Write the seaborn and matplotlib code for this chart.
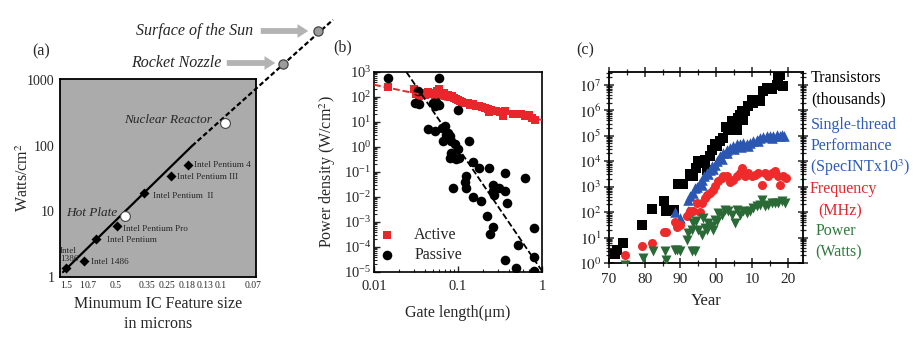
import numpy as np
import pandas as pd
import matplotlib
matplotlib.use('Agg')
import matplotlib.pyplot as plt
from matplotlib.ticker import LogLocator, NullFormatter, NullLocator, FixedLocator, MultipleLocator
import seaborn as sns

# ---------------- Panel (a) data ----------------
node_labels = ['1.5', '1', '0.7', '0.5', '0.35', '0.25', '0.18', '0.13', '0.1', '0.07']
node_pos = [0.6, 2.2, 3.1, 5.6, 8.7, 10.7, 12.7, 14.5, 16.1, 19.3]
chip_names = ['Intel\n1386', 'Intel 1486', 'Intel Pentium', 'Intel Pentium Pro',
              'Intel Pentium  II', 'Intel Pentium III', 'Intel Pentium 4']
chip_pos = [0.6, 2.4, 3.6, 5.7, 8.4, 11.1, 12.8]
chip_watts = [1.37, 1.75, 3.8, 6.0, 19, 34, 51]
ref_names = ['Hot Plate', 'Nuclear Reactor', 'Rocket Nozzle', 'Surface of the Sun']
ref_pos = [6.5, 16.5, 22.3, 25.8]
ref_watts = [8.6, 221, 1750, 5550]
trend_solid_pos = [0.3, 13.2]
trend_solid_watts = [1.19, 98.6]
trend_dash_pos = [13.2, 27.3]
trend_dash_watts = [98.6, 8200]

# ---------------- Panel (b) data ----------------
active_len = [0.0148, 0.030, 0.032, 0.034, 0.036, 0.040, 0.044, 0.047, 0.050, 0.053, 0.056,
              0.059, 0.062, 0.065, 0.068, 0.072, 0.075, 0.080, 0.085, 0.090, 0.095, 0.100,
              0.105, 0.112, 0.120, 0.130, 0.140, 0.150, 0.165, 0.180, 0.195, 0.210, 0.225,
              0.235, 0.250, 0.280, 0.320, 0.340, 0.360, 0.450, 0.570, 0.620, 0.700, 0.760, 0.820]
active_pd = [240, 210, 130, 105, 150, 120, 160, 140, 135, 125, 175,
             200, 150, 120, 140, 110, 125, 100, 110, 90, 80, 75,
             70, 65, 60, 55, 50, 52, 45, 42, 40, 36, 33,
             24, 30, 27, 25, 17, 28, 21, 20, 17, 19, 14, 12]
passive_len = [0.0147, 0.060, 0.0334, 0.0305, 0.034, 0.050, 0.053, 0.060, 0.055, 0.100,
               0.044, 0.053, 0.065, 0.070, 0.072, 0.080, 0.066, 0.075, 0.083, 0.093, 0.099,
               0.083, 0.134, 0.080, 0.087, 0.094, 0.104, 0.150, 0.180, 0.234, 0.360, 0.630,
               0.125, 0.120, 0.087, 0.125, 0.150, 0.190, 0.260, 0.260, 0.265, 0.310, 0.360,
               0.380, 0.220, 0.260, 0.240, 0.800, 0.520, 0.360, 0.490, 0.800, 0.800]
passive_pd = [550, 575, 178, 60, 52, 55, 45, 48, 62, 29,
              5.4, 4.2, 6.0, 7.0, 3.0, 2.8, 1.7, 3.5, 1.7, 1.3, 0.8,
              0.6, 1.7, 0.35, 0.40, 0.33, 0.35, 0.26, 0.14, 0.15, 0.09, 0.06,
              0.07, 0.04, 0.022, 0.022, 0.010, 0.007, 0.030, 0.017, 0.012, 0.022, 0.017,
              0.006, 0.0017, 0.00065, 0.00032, 0.0006, 0.00012, 0.00003, 0.000014, 0.00004, 0.000011]
active_fit_len = [0.01, 1.0]
active_fit_pd = [310, 12]
passive_fit_len = [0.0243, 1.0]
passive_fit_pd = [1000, 1.1e-5]

# ---------------- Panel (c) data ----------------
tr_year = [1971.6, 1972.2, 1973.9, 1979.3, 1981.9, 1985.4, 1985.9, 1988.2, 1989.3, 1990.6,
           1992.6, 1993.6, 1994.3, 1995.0, 1995.9, 1996.8, 1997.3, 1998.2, 1998.7, 1999.6,
           2000.1, 2001.0, 2002.0, 2002.7, 2003.4, 2004.3, 2004.5, 2004.8, 2005.7, 2006.2,
           2006.6, 2007.1, 2007.6, 2008.0, 2009.0, 2009.9, 2010.4, 2011.3, 2012.2, 2013.2,
           2014.1, 2015.5, 2016.9, 2017.4, 2017.9, 2018.8]
tr_val = [2.3e0, 3.3e0, 6e0, 3e1, 1.35e2, 2.8e2, 1.07e2, 1.24e2, 1.26e3, 1.26e3,
          3.0e3, 2.5e3, 5.4e3, 1.0e4, 8.5e3, 1.15e4, 4.6e3, 1.55e4, 2.8e4, 4.5e4,
          3.8e4, 6.0e4, 8.0e4, 2.1e5, 2.0e5, 1.7e5, 3.6e5, 2.7e5, 1.7e5, 4.9e5,
          6.6e5, 9.1e5, 4.3e5, 9.1e5, 1.4e6, 2.6e6, 1.9e6, 2.6e6, 2.2e6, 5.5e6,
          7.4e6, 6.5e6, 1.0e7, 2.1e7, 2.5e7, 8.7e6]
pf_year = [1988.4, 1990.0, 1992.1, 1992.0, 1992.6, 1993.6, 1994.0, 1994.5, 1995.4, 1995.9,
           1996.5, 1997.3, 1998.2, 1998.7, 1999.6, 2000.1, 2001.0, 2002.0, 2002.9, 2003.8,
           2004.8, 2005.7, 2006.6, 2007.6, 2008.5, 2009.4, 2010.4, 2011.3, 2012.2, 2013.2,
           2014.1, 2015.0, 2016.0, 2016.9, 2017.9, 2019.0, 1996.0, 1997.8, 1999.0, 2001.5,
           2003.0, 2005.0, 2007.0, 2009.0, 2011.8, 2015.5, 2018.5]
pf_val = [9.8e1, 5.9e1, 1.06e2, 3.1e2, 4.2e2, 5.6e2, 8.9e2, 1.0e3, 1.4e3, 1.9e3,
          2.5e3, 3.4e3, 4.6e3, 6.3e3, 7.2e3, 1.0e4, 1.55e4, 2.1e4, 2.8e4, 3.3e4,
          3.8e4, 4.5e4, 4.5e4, 5.1e4, 4.5e4, 5.1e4, 6.0e4, 6.9e4, 7.9e4, 8.9e4,
          9.3e4, 1.0e5, 1.0e5, 1.1e5, 1.0e5, 1.0e5, 1.2e3, 3.0e3, 5.0e3, 1.2e4,
          2.0e4, 3.0e4, 3.5e4, 4.0e4, 6.0e4, 8.0e4, 1.1e5]
fq_year = [1974.4, 1979.3, 1981.9, 1985.4, 1985.9, 1988.4, 1989.1, 1990.0, 1991.9, 1992.6,
           1993.6, 1994.5, 1995.4, 1995.9, 1996.8, 1997.3, 1998.2, 1999.2, 1999.6, 2000.6,
           2001.5, 2002.0, 2002.9, 2003.8, 2004.8, 2005.7, 2006.6, 2007.1, 2008.0, 2009.0,
           2009.9, 2010.8, 2011.8, 2012.7, 2013.6, 2014.6, 2015.5, 2016.4, 2017.4, 2018.0,
           2018.8, 2019.5]
fq_val = [2.0, 4.8, 6.0, 17, 17, 40, 26, 32, 68, 106,
          106, 230, 98, 230, 355, 460, 560, 760, 1020, 1620,
          2190, 2500, 2500, 1580, 1860, 2500, 3390, 5370, 2500, 3390,
          2500, 2950, 3390, 1170, 3390, 2500, 3390, 3980, 2500, 1170,
          2500, 2190]
pw_year = [1974.4, 1979.5, 1982.3, 1985.6, 1985.9, 1988.4, 1988.9, 1989.8, 1991.7, 1992.0,
           1993.1, 1994.0, 1993.1, 1993.6, 1994.3, 1995.0, 1995.9, 1996.4, 1996.8, 1997.3,
           1997.8, 1998.7, 1999.2, 1999.6, 2000.1, 2000.6, 2001.5, 2002.4, 2003.4, 2004.3,
           2005.2, 2005.7, 2006.6, 2007.6, 2008.5, 2009.4, 2010.4, 2011.3, 2012.2, 2012.7,
           2013.6, 2014.6, 2015.5, 2016.4, 2017.4, 2018.3, 2019.3]
pw_val = [0.86, 1.6, 2.9, 2.9, 1.35, 3.3, 3.3, 2.9, 8.3, 15,
          2.9, 2.9, 20, 37, 44, 20, 13, 59, 23, 20,
          37, 28, 20, 50, 44, 91, 79, 123, 107, 79,
          37, 123, 79, 107, 91, 107, 145, 170, 195, 290,
          170, 195, 229, 229, 229, 263, 229]

# ---------------- style ----------------
sns.set_theme(style='ticks')
plt.rcParams['font.family'] = ['Liberation Serif', 'DejaVu Serif']
plt.rcParams['mathtext.fontset'] = 'stix'
plt.rcParams['axes.linewidth'] = 1.2
plt.rcParams['axes.edgecolor'] = 'black'

W, H = 918, 338
fig = plt.figure(figsize=(W / 100, H / 100), dpi=100)


def box(l, t, r, b):
    return [l / W, 1 - b / H, (r - l) / W, (b - t) / H]


def fx(px):
    return px / W


def fy(py):
    return 1 - py / H


# ================= Panel (a) =================
axa = fig.add_axes(box(60, 79, 256, 277))
axa.set_facecolor('#ababab')
axa.set_yscale('log')
axa.plot(trend_solid_pos, trend_solid_watts, color='black', lw=1.6, zorder=2)
axa.plot(trend_dash_pos, trend_dash_watts, color='black', lw=1.6, ls=(0, (2.2, 1.2)),
         clip_on=False, zorder=2)
sns.scatterplot(x=chip_pos, y=chip_watts, marker='D', color='black', s=26, linewidth=0,
                ax=axa, zorder=3)
sns.scatterplot(x=ref_pos[:2], y=ref_watts[:2], marker='o', color='white', edgecolor='#444444',
                linewidth=0.8, s=50, ax=axa, zorder=4, clip_on=False)
sns.scatterplot(x=ref_pos[2:], y=ref_watts[2:], marker='o', color='#9c9c9c', edgecolor='#444444',
                linewidth=0.9, s=44, ax=axa, zorder=4, clip_on=False)
axa.set_xlim(0, 19.6)
axa.set_ylim(1, 1030)
axa.set_xticks(node_pos)
axa.set_xticklabels(node_labels, fontsize=6.9)
axa.set_yticks([1, 10, 100, 1000])
axa.set_yticklabels(['1', '10', '100', '1000'], fontsize=10)
axa.yaxis.set_minor_locator(NullLocator())
axa.tick_params(length=0, pad=3)
axa.tick_params(axis='y', pad=4)
axa.set_ylabel('Watts/cm$^2$', fontsize=11.5)
axa.yaxis.set_label_coords(-0.142, 0.5)
axa.set_xlabel('Minumum IC Feature size\nin microns', fontsize=11.5, linespacing=1.35)
axa.xaxis.set_label_coords(0.5, -0.095)
for sp in axa.spines.values():
    sp.set_linewidth(1.3)

# chip labels (text)
chip_label_px = [(60, 255), (91, 262), (107, 240), (123, 229), (153, 196), (177, 177), (194, 165)]
for name, (px, py) in zip(chip_names, chip_label_px):
    fig.text(fx(px), fy(py), name, fontsize=6.6, ha='left', va='center', linespacing=0.85)
fig.text(fx(117), fy(213), 'Hot Plate', fontsize=9.5, style='italic', ha='right', va='center')
fig.text(fx(212), fy(120), 'Nuclear Reactor', fontsize=9.5, style='italic', ha='right', va='center')
fig.text(fx(221), fy(63), 'Rocket Nozzle', fontsize=11.5, style='italic', ha='right', va='center')
fig.text(fx(253), fy(31), 'Surface of the Sun', fontsize=11.5, style='italic', ha='right', va='center')
arrow_kw = dict(arrowstyle='simple,head_length=0.7,head_width=0.9,tail_width=0.38',
                color='#b3b3b3', lw=0)
fig.add_artist(matplotlib.patches.FancyArrowPatch((fx(224), fy(63)), (fx(278), fy(63)),
                                                   transform=fig.transFigure,
                                                   mutation_scale=11, **arrow_kw))
fig.add_artist(matplotlib.patches.FancyArrowPatch((fx(258), fy(31)), (fx(311), fy(31)),
                                                   transform=fig.transFigure,
                                                   mutation_scale=11, **arrow_kw))
fig.text(fx(41), fy(51), '(a)', fontsize=11.5, ha='center', va='center')

# ================= Panel (b) =================
axb = fig.add_axes(box(374, 72, 542, 272))
axb.set_xscale('log')
axb.set_yscale('log')
sns.scatterplot(x=active_len, y=active_pd, marker='s', color='#e8262b', s=40, linewidth=0,
                ax=axb, zorder=2, label='Active')
sns.scatterplot(x=passive_len, y=passive_pd, marker='o', color='black', s=48, linewidth=0,
                ax=axb, zorder=3, label='Passive')
axb.plot(active_fit_len, active_fit_pd, color='#e8262b', lw=1.4, ls=(0, (3.5, 1.5)), zorder=4)
axb.plot(passive_fit_len, passive_fit_pd, color='black', lw=1.3, ls=(0, (3.5, 1.5)), zorder=4)
axb.set_xlim(0.01, 1)
axb.set_ylim(1e-5, 1e3)
axb.xaxis.set_major_locator(FixedLocator([0.01, 0.1, 1]))
axb.set_xticklabels(['0.01', '0.1', '1'])
axb.xaxis.set_minor_locator(LogLocator(base=10, subs=np.arange(2, 10), numticks=50))
axb.yaxis.set_major_locator(LogLocator(base=10, numticks=20))
axb.yaxis.set_minor_locator(LogLocator(base=10, subs=np.arange(2, 10), numticks=100))
axb.xaxis.set_minor_formatter(NullFormatter())
axb.yaxis.set_minor_formatter(NullFormatter())
axb.tick_params(which='both', direction='in', labelsize=10.5, top=False, right=False)
axb.tick_params(which='major', length=4, width=1)
axb.tick_params(which='minor', length=2.2, width=0.8)
axb.tick_params(axis='y', pad=2)
axb.tick_params(axis='x', pad=6)
axb.set_ylabel('Power density (W/cm$^2$)', fontsize=11.5)
axb.yaxis.set_label_coords(-0.215, 0.5)
axb.set_xlabel('Gate length(\u03bcm)', fontsize=11.5)
axb.xaxis.set_label_coords(0.5, -0.165)
axb.legend(loc='lower left', bbox_to_anchor=(0.03, 0.045), frameon=False, fontsize=11.5,
           borderpad=0, borderaxespad=0, handlelength=1.0, handletextpad=1.2,
           labelspacing=0.25, markerscale=1.0)
fig.text(fx(343), fy(47), '(b)', fontsize=11.5, ha='center', va='center')

# ================= Panel (c) =================
axc = fig.add_axes(box(609, 72, 803, 263))
axc.set_yscale('log')
sns.scatterplot(x=tr_year, y=tr_val, marker='s', color='black', s=46, linewidth=0, ax=axc, zorder=2)
sns.scatterplot(x=pf_year, y=pf_val, marker='^', color='#2b57b3', s=58, linewidth=0, ax=axc, zorder=3)
sns.scatterplot(x=fq_year, y=fq_val, marker='o', color='#ee2a2a', s=42, linewidth=0, ax=axc, zorder=4)
sns.scatterplot(x=pw_year, y=pw_val, marker='v', color='#2a6a36', s=52, linewidth=0, ax=axc, zorder=5)
axc.set_xlim(1970, 2024.3)
axc.set_ylim(1, 10 ** 7.5)
axc.xaxis.set_major_locator(FixedLocator([1970, 1980, 1990, 2000, 2010, 2020]))
axc.set_xticklabels(['70', '80', '90', '00', '10', '20'])
axc.xaxis.set_minor_locator(MultipleLocator(5))
axc.yaxis.set_major_locator(FixedLocator([10.0 ** k for k in range(8)]))
axc.set_yticklabels(['$10^{%d}$' % k for k in range(8)])
axc.yaxis.set_minor_locator(LogLocator(base=10, subs=np.arange(2, 10), numticks=100))
axc.yaxis.set_minor_formatter(NullFormatter())
axc.tick_params(which='both', direction='inout', top=True, right=True, labelsize=11)
axc.tick_params(which='major', length=7, width=1.1)
axc.tick_params(which='minor', length=4, width=0.9)
axc.tick_params(axis='y', pad=2)
axc.set_xlabel('Year', fontsize=12)
axc.xaxis.set_label_coords(0.5, -0.155)
axc.set_ylabel('')
for sp in axc.spines.values():
    sp.set_linewidth(1.3)

right_labels = [
    ('Transistors', 811, 78, 'black'),
    ('(thousands)', 811, 99, 'black'),
    ('Single-thread', 811, 125, '#2c5cb6'),
    ('Performance', 811, 146, '#2c5cb6'),
    ('(SpecINTx10$^3$)', 810, 168, '#2c5cb6'),
    ('Frequency', 810, 189, '#e3262a'),
    ('(MHz)', 818, 211, '#e3262a'),
    ('Power', 816, 231, '#2e7a3a'),
    ('(Watts)', 815, 252, '#2e7a3a'),
]
for txt, px, py, col in right_labels:
    fig.text(fx(px), fy(py), txt, fontsize=11.5, color=col, ha='left', va='center')
fig.text(fx(585), fy(50), '(c)', fontsize=11.5, ha='center', va='center')

fig.savefig('out.png', dpi=100)
